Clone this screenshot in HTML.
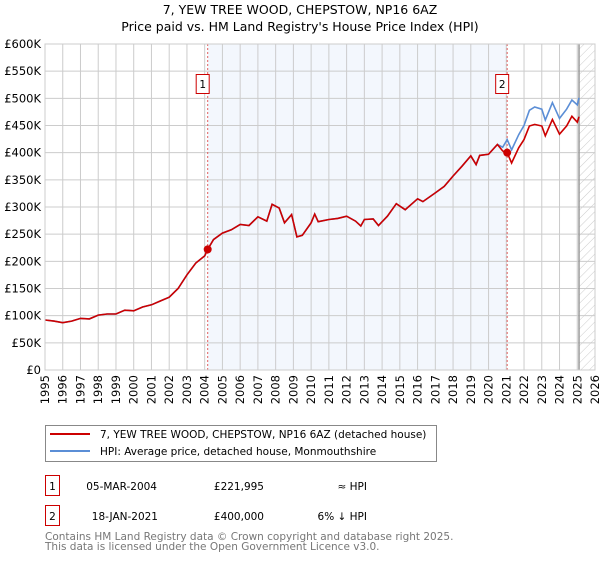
<!DOCTYPE html>
<html><head><meta charset="utf-8"><style>
body{margin:0;background:#fff;}
svg text{font-family:"DejaVu Sans","Liberation Sans",sans-serif;}
</style></head><body>
<svg width="600" height="560" xmlns="http://www.w3.org/2000/svg">
<defs><pattern id="hatch" patternUnits="userSpaceOnUse" width="6" height="6" patternTransform="rotate(45)"><line x1="0" y1="0" x2="0" y2="6" stroke="#ccc" stroke-width="1"/></pattern></defs>
<text x="300" y="14" text-anchor="middle" font-size="12.5">7, YEW TREE WOOD, CHEPSTOW, NP16 6AZ</text>
<text x="300" y="31" text-anchor="middle" font-size="12.5">Price paid vs. HM Land Registry's House Price Index (HPI)</text>
<g id="plot"></g>
<g>
<rect x="45.5" y="425.5" width="391" height="36" fill="#fff" stroke="#888"/>
<line x1="50" y1="434" x2="90" y2="434" stroke="#cc0000" stroke-width="2"/>
<text x="100" y="438" font-size="10.5">7, YEW TREE WOOD, CHEPSTOW, NP16 6AZ (detached house)</text>
<line x1="50" y1="451" x2="90" y2="451" stroke="#5b8ed6" stroke-width="2"/>
<text x="100" y="455" font-size="10.5">HPI: Average price, detached house, Monmouthshire</text>
</g>
<g font-size="10.5">
<rect x="45.5" y="475.5" width="14" height="20" fill="#fff" stroke="#cc0000"/>
<text x="52.5" y="490" text-anchor="middle">1</text>
<text x="157" y="490" text-anchor="end">05-MAR-2004</text>
<text x="264" y="490" text-anchor="end">£221,995</text>
<text x="367" y="490" text-anchor="end">≈ HPI</text>
<rect x="45.5" y="505.5" width="14" height="20" fill="#fff" stroke="#cc0000"/>
<text x="52.5" y="520" text-anchor="middle">2</text>
<text x="158" y="520" text-anchor="end">18-JAN-2021</text>
<text x="264" y="520" text-anchor="end">£400,000</text>
<text x="367" y="520" text-anchor="end">6% ↓ HPI</text>
</g>
<text x="45" y="540" font-size="10.5" fill="#777">Contains HM Land Registry data © Crown copyright and database right 2025.</text>
<text x="45" y="550" font-size="10.5" fill="#777">This data is licensed under the Open Government Licence v3.0.</text>
</svg>
<script>
const years=[1995,1995.5,1996,1996.5,1997,1997.5,1998,1998.5,1999,1999.5,2000,2000.5,2001,2001.5,2002,2002.5,2003,2003.5,2004,2004.17,2004.5,2005,2005.5,2006,2006.5,2007,2007.5,2007.8,2008.2,2008.5,2008.9,2009.2,2009.5,2010,2010.2,2010.4,2011,2011.5,2012,2012.5,2012.8,2013,2013.5,2013.8,2014.3,2014.8,2015.3,2016,2016.3,2017,2017.5,2018,2018.5,2019,2019.3,2019.5,2020,2020.5,2020.8,2021.05,2021.3,2021.7,2022,2022.3,2022.6,2023,2023.2,2023.6,2024,2024.4,2024.7,2025,2025.1];
const priceK=[92,90,87,90,95,94,101,103,103,110,109,116,120,127,134,150,175,197,210,222,240,252,258,268,266,282,274,305,298,271,286,245,248,271,287,273,277,279,283,274,265,277,278,266,283,306,295,315,310,326,338,357,375,394,378,395,397,415,403,400,381,409,424,449,452,449,431,461,434,449,467,456,466];
const hpiK=[92,90,87,90,95,94,101,103,103,110,109,116,120,127,134,150,175,197,210,222,240,252,258,268,266,282,274,305,298,271,286,245,248,271,287,273,277,279,283,274,265,277,278,266,283,306,295,315,310,326,338,357,375,394,378,395,397,415,410,424,405,433,450,478,484,480,460,492,463,480,497,488,501];
const yTicks=[0,50,100,150,200,250,300,350,400,450,500,550,600];
const xTicks=[1995,1996,1997,1998,1999,2000,2001,2002,2003,2004,2005,2006,2007,2008,2009,2010,2011,2012,2013,2014,2015,2016,2017,2018,2019,2020,2021,2022,2023,2024,2025,2026];
const sales=[{label:"1",year:2004.17,k:222},{label:"2",year:2021.05,k:400}];
const X0=45,X1=595,Y0=370,Y1=44;
const xs=y=>X0+(y-1995)/(2026-1995)*(X1-X0);
const ys=v=>Y0-v/600*(Y0-Y1);
const NS="http://www.w3.org/2000/svg";
const g=document.getElementById('plot');
function mk(t,a,p){const e=document.createElementNS(NS,t);for(const k in a)e.setAttribute(k,a[k]);(p||g).appendChild(e);return e;}
const shade=mk('rect',{x:xs(sales[0].year),y:Y1,width:xs(sales[1].year)-xs(sales[0].year),height:Y0-Y1,fill:'#eef3fc',opacity:0.7});


const hat=mk('rect',{x:xs(2025.1),y:Y1,width:X1-xs(2025.1),height:Y0-Y1,fill:'url(#hatch)'});


yTicks.forEach(v=>{
 const l=mk('line',{x1:X0,x2:X1,y1:ys(v),y2:ys(v),stroke:'#ccc'});
 
 
 const t=mk('text',{x:X0-4,y:ys(v)+4,'text-anchor':'end','font-size':'11.5'});
 t.textContent=v===0?'£0':'£'+v+'K';
 
 
});
xTicks.forEach(v=>{
 const l=mk('line',{x1:xs(v),x2:xs(v),y1:Y1,y2:Y0,stroke:'#ccc'});
 
 
 const t=mk('text',{x:0,y:0,'text-anchor':'end','font-size':'11.5',transform:`translate(${xs(v)+4},${Y0+5}) rotate(-90)`});
 t.textContent=v;
 
 
});
const nl=mk('line',{x1:xs(2025.1),x2:xs(2025.1),y1:Y1,y2:Y0,stroke:'#999','stroke-width':1.5});


sales.forEach(s=>{
 const l=mk('line',{x1:xs(s.year),x2:xs(s.year),y1:Y1,y2:Y0,stroke:'#e06060','stroke-dasharray':'2,2'});
 
 
 const r=mk('rect',{x:xs(s.year)-11.5,y:74.5,width:13,height:19,fill:'#fff',stroke:'#cc0000'});
 
 
 const t=mk('text',{x:xs(s.year)-5,y:88,'text-anchor':'middle','font-size':'10.5'});
 t.textContent=s.label;
 
 
});
const pl=v=>years.map((y,i)=>xs(y).toFixed(1)+','+ys(v[i]).toFixed(1)).join(' ');
const hl=mk('polyline',{points:pl(hpiK),fill:'none',stroke:'#5b8ed6','stroke-width':1.6});


const rl=mk('polyline',{points:pl(priceK),fill:'none',stroke:'#cc0000','stroke-width':1.6});


sales.forEach(s=>{
 const c=mk('circle',{cx:xs(s.year),cy:ys(s.k),r:4,fill:'#cc0000'});
 
 
});
const bd=mk('rect',{x:X0,y:Y1,width:X1-X0,height:Y0-Y1,fill:'none',stroke:'#ccc'});


</script>
</body></html>
